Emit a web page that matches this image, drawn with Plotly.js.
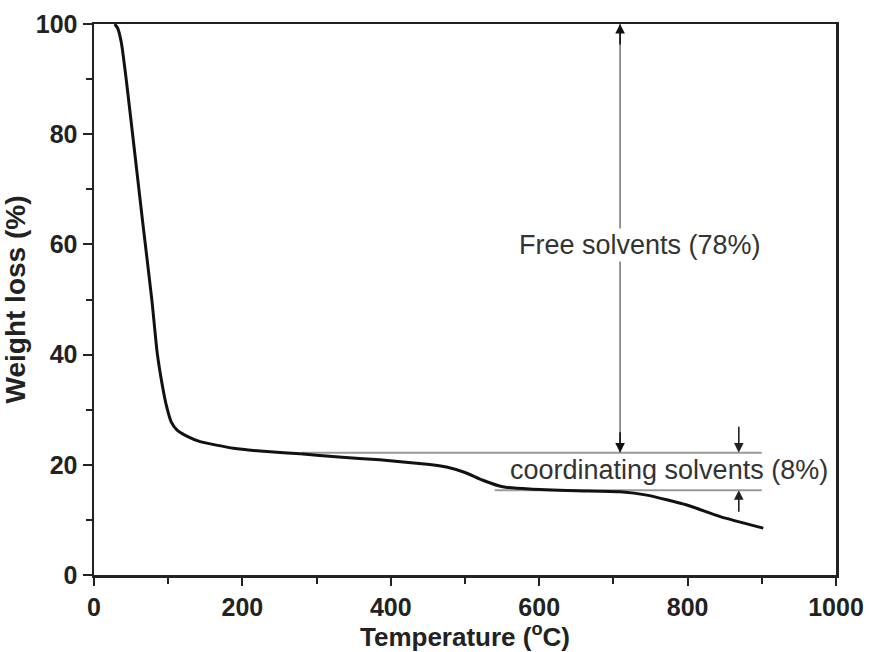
<!DOCTYPE html>
<html>
<head>
<meta charset="utf-8">
<script src="https://cdn.plot.ly/plotly-3.0.1.min.js"></script>
<style>
  html, body { margin: 0; padding: 0; background: #fff; }
  #chart { width: 869px; height: 652px; }
</style>
</head>
<body>
<div id="chart"></div>
<script>
// TGA curve
const temperature = [28, 32, 37, 44, 55, 66, 78, 85, 92, 98, 104, 112, 125, 143, 188, 233, 278, 330, 385, 449, 475, 500, 524, 551, 587, 650, 709, 745, 799, 844, 902];
const weightLoss  = [100, 99.2, 96.5, 89.3, 76.5, 63.6, 49.9, 40.5, 34.5, 30.5, 27.8, 26.3, 25.2, 24.2, 23.0, 22.4, 22.0, 21.4, 20.9, 20.1, 19.6, 18.6, 17.2, 16.0, 15.6, 15.3, 15.1, 14.5, 12.7, 10.6, 8.5];

// annotation levels
const upperLevel = 22.2;     // end of free solvent loss
const lowerLevel = 15.4;     // end of coordinating solvent loss
const upperLineStart = 280;
const lowerLineStart = 540;
const lineEnd = 900;
const freeArrowX = 709;
const coordArrowX = 869;
const freeLabel = 'Free solvents (78%)';
const coordLabel = 'coordinating solvents (8%)';
const freeLabelPos = [736, 59.9];
const coordLabelPos = [775, 19.0];

const FONT = 'Liberation Sans, Arial, Helvetica, sans-serif';

const trace = {
  x: temperature,
  y: weightLoss,
  type: 'scatter',
  mode: 'lines',
  line: { color: '#111', width: 3, shape: 'spline', smoothing: 0.5 },
  hoverinfo: 'skip',
  showlegend: false
};

const axisCommon = {
  showgrid: false,
  zeroline: false,
  showline: true,
  linecolor: '#222',
  linewidth: 2.5,
  mirror: true,
  ticks: 'outside',
  ticklen: 9,
  tickwidth: 2,
  tickcolor: '#222',
  tickfont: { family: FONT, size: 25, color: '#222', weight: 'bold' }
};

const layout = {
  width: 869,
  height: 652,
  margin: { l: 94, r: 33, t: 24, b: 77 },
  paper_bgcolor: '#fff',
  plot_bgcolor: '#fff',
  font: { family: FONT, color: '#222' },
  xaxis: Object.assign({}, axisCommon, {
    range: [0, 1000],
    tick0: 0, dtick: 200,
    ticklen: 8,
    minor: { dtick: 100, ticks: 'outside', ticklen: 6, tickwidth: 2, tickcolor: '#222' },
    title: { text: 'Temperature (<sup>o</sup>C)', font: { family: FONT, size: 26, color: '#222', weight: 'bold' }, standoff: 8 }
  }),
  yaxis: Object.assign({}, axisCommon, {
    range: [0, 100],
    tick0: 0, dtick: 20,
    minor: { dtick: 10, ticks: 'outside', ticklen: 6, tickwidth: 2, tickcolor: '#222' },
    title: { text: 'Weight loss (%)', font: { family: FONT, size: 28, color: '#222', weight: 'bold' }, standoff: 6 }
  }),
  shapes: [
    { type: 'line', xref: 'x', yref: 'y', x0: upperLineStart, x1: lineEnd, y0: upperLevel, y1: upperLevel, line: { color: '#9a9a9a', width: 2 }, layer: 'below' },
    { type: 'line', xref: 'x', yref: 'y', x0: lowerLineStart, x1: lineEnd, y0: lowerLevel, y1: lowerLevel, line: { color: '#9a9a9a', width: 2 }, layer: 'below' },
    { type: 'line', xref: 'x', yref: 'y', x0: freeArrowX, x1: freeArrowX, y0: upperLevel, y1: 100, line: { color: '#8a8a8a', width: 1.8 }, layer: 'below' }
  ],
  annotations: [
    { x: freeArrowX, y: 100, ax: freeArrowX, ay: 96, xref: 'x', yref: 'y', axref: 'x', ayref: 'y', text: '', showarrow: true, arrowhead: 2, arrowsize: 1.2, arrowwidth: 1.6, arrowcolor: '#111', standoff: 0 },
    { x: freeArrowX, y: upperLevel, ax: freeArrowX, ay: upperLevel + 4, xref: 'x', yref: 'y', axref: 'x', ayref: 'y', text: '', showarrow: true, arrowhead: 2, arrowsize: 1.2, arrowwidth: 1.6, arrowcolor: '#111', standoff: 0 },
    { x: coordArrowX, y: upperLevel, ax: coordArrowX, ay: 27.2, xref: 'x', yref: 'y', axref: 'x', ayref: 'y', text: '', showarrow: true, arrowhead: 2, arrowsize: 1.2, arrowwidth: 1.6, arrowcolor: '#222', standoff: 0 },
    { x: coordArrowX, y: lowerLevel, ax: coordArrowX, ay: 11.2, xref: 'x', yref: 'y', axref: 'x', ayref: 'y', text: '', showarrow: true, arrowhead: 2, arrowsize: 1.2, arrowwidth: 1.6, arrowcolor: '#222', standoff: 0 },
    { x: freeLabelPos[0], y: freeLabelPos[1], xref: 'x', yref: 'y', text: freeLabel, showarrow: false, bgcolor: '#fff', font: { family: FONT, size: 27, color: '#333' } },
    { x: coordLabelPos[0], y: coordLabelPos[1], xref: 'x', yref: 'y', text: coordLabel, showarrow: false, font: { family: FONT, size: 27, color: '#333' } }
  ]
};

Plotly.newPlot('chart', [trace], layout, { displayModeBar: false, staticPlot: true });
</script>
</body>
</html>
